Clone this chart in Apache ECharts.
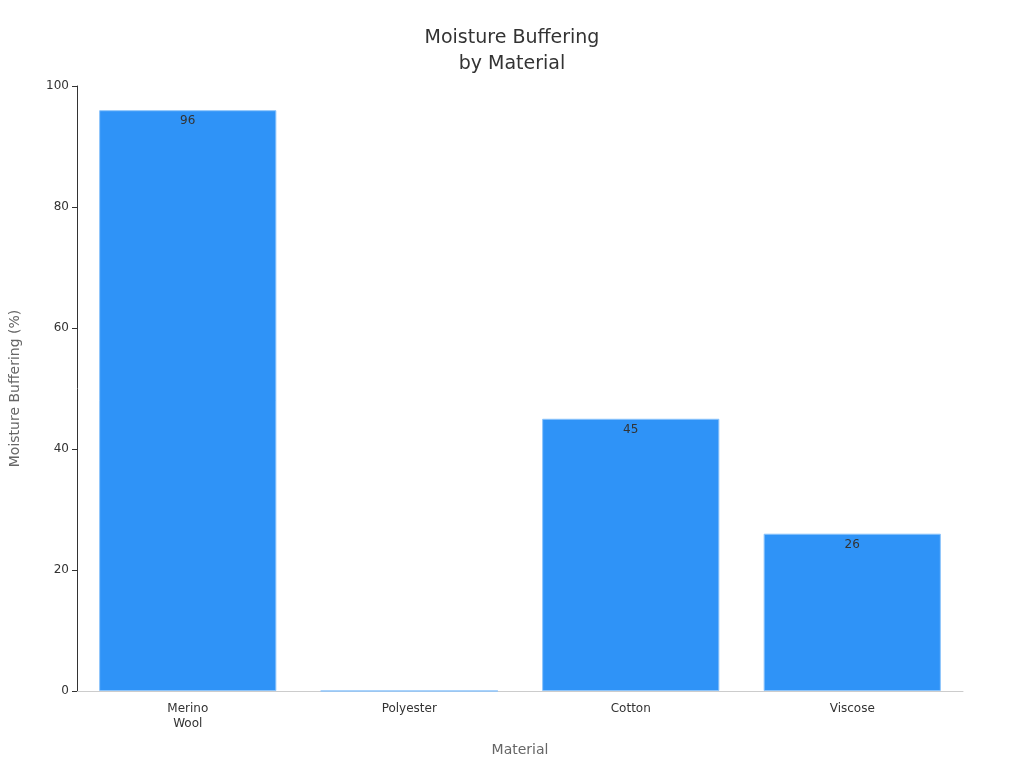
<!DOCTYPE html>
<html>
<head>
<meta charset="utf-8">
<script src="https://cdn.jsdelivr.net/npm/echarts@6/dist/echarts.min.js"></script>
<style>html,body{margin:0;padding:0;background:#fff}#chart{width:1024px;height:768px}</style>
</head>
<body>
<div id="chart"></div>
<script>
// data
const categories = ['Merino\nWool', 'Polyester', 'Cotton', 'Viscose']
const buffering = [96, 0, 45, 26]
const yTicks = [0, 20, 40, 60, 80, 100]

const chart = echarts.init(document.getElementById('chart'))
chart.setOption({
  backgroundColor: '#ffffff',
  textStyle: { fontFamily: 'DejaVu Sans' },
  title: {
    text: 'Moisture Buffering\nby Material',
    left: 'center',
    top: 20,
    textStyle: { fontSize: 19, fontWeight: 'normal', color: '#333', lineHeight: 26 }
  },
  grid: { left: 68, right: 61, top: 86, bottom: 77 },
  xAxis: {
    type: 'category',
    data: categories,
    name: 'Material',
    nameLocation: 'middle',
    nameGap: 52,
    nameTextStyle: { fontSize: 14, color: '#666' },
    axisTick: { show: false },
    axisLine: { lineStyle: { color: '#ccc' } },
    axisLabel: { color: '#333', fontSize: 12, margin: 10, lineHeight: 15 }
  },
  yAxis: {
    type: 'value',
    min: yTicks[0],
    max: yTicks[yTicks.length - 1],
    interval: 20,
    name: 'Moisture Buffering (%)',
    nameLocation: 'middle',
    nameGap: 55,
    nameTextStyle: { fontSize: 14, color: '#666' },
    splitLine: { show: false },
    axisLine: { show: true, lineStyle: { color: '#333' } },
    axisTick: { show: true, length: 5, lineStyle: { color: '#333' } },
    axisLabel: { color: '#333', fontSize: 12 }
  },
  series: [{
    type: 'bar',
    data: buffering,
    barWidth: '80%',
    itemStyle: { color: '#2F93F7', borderColor: '#8cc4fb', borderWidth: 1 },
    label: {
      show: true,
      position: 'insideTop',
      color: '#333',
      fontSize: 12,
      formatter: p => (p.value ? p.value : '')
    }
  }]
})
</script>
</body>
</html>
